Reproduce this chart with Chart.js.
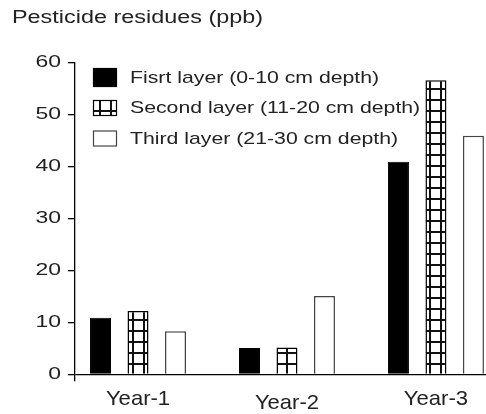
<!DOCTYPE html>
<html>
<head>
<meta charset="utf-8">
<script src="https://cdn.jsdelivr.net/npm/chart.js@4"></script>
<style>
html,body{margin:0;padding:0;background:#fff;}
canvas{display:block;}
</style>
</head>
<body>
<canvas id="c" width="486" height="414"></canvas>
<script>
// ---- data ----
const categories = ['Year-1', 'Year-2', 'Year-3'];
const seriesNames = ['Fisrt layer (0-10 cm depth)', 'Second layer (11-20 cm depth)', 'Third layer (21-30 cm depth)'];
const firstLayer = [10.9, 5.1, 40.9];
const secondLayer = [12.2, 5.2, 56.6];
const thirdLayer = [8.3, 15.1, 45.9];
const yTicks = [0, 10, 20, 30, 40, 50, 60];
const titleText = 'Pesticide residues (ppb)';

const FONT = '"Liberation Sans", Arial, sans-serif';
Chart.defaults.font.family = FONT;
Chart.defaults.color = '#222';

const canvas = document.getElementById('c');
const ctx = canvas.getContext('2d');

// horizontal text stretch (the reference text is drawn wide)
let textStretch = 1;
const origFillText = ctx.fillText.bind(ctx);
ctx.fillText = function (text, x, y, maxWidth) {
  if (textStretch === 1) return origFillText(text, x, y, maxWidth);
  this.save();
  this.translate(x, y);
  this.scale(textStretch, 1);
  origFillText(text, 0, 0);
  this.restore();
};

function gridPattern() {
  const t = document.createElement('canvas');
  t.width = 11; t.height = 11;
  const g = t.getContext('2d');
  g.fillStyle = '#fff'; g.fillRect(0, 0, 11, 11);
  g.fillStyle = '#111';
  g.fillRect(0, 0, 2, 11);
  g.fillRect(0, 0, 11, 2);
  return ctx.createPattern(t, 'repeat');
}

const toPoints = arr => arr.map((v, i) => ({ x: i, y: v }));

const labelStretch = { x: 1.05, y: 1.35 };

const stretchPlugin = {
  id: 'stretch',
  beforeDraw(chart) {
    textStretch = 1.3;
    Object.values(chart.scales).forEach(s => {
      if (!s._stPatched) {
        const orig = s.drawLabels;
        s.drawLabels = function (area) {
          const prev = textStretch;
          textStretch = labelStretch[this.id] || 1;
          orig.call(this, area);
          textStretch = prev;
        };
        s._stPatched = true;
      }
    });
  },
  afterDraw() { textStretch = 1; }
};

const legendPlugin = {
  id: 'insideLegend',
  afterDatasetsDraw(chart) {
    const { ctx, chartArea } = chart;
    const prev = textStretch;
    ctx.save();
    ctx.font = '17px ' + FONT;
    ctx.textBaseline = 'middle';
    ctx.textAlign = 'left';
    chart.data.datasets.forEach((ds, i) => {
      const cy = chartArea.top + 15 + i * 30.5;
      const bx = chartArea.left + 18, bw = 24, bh = i === 0 ? 19 : 16;
      ctx.fillStyle = ds.backgroundColor;
      ctx.fillRect(bx, cy - bh / 2, bw, bh);
      ctx.lineWidth = 1.2;
      ctx.strokeStyle = ds.borderColor;
      ctx.strokeRect(bx + 0.5, cy - bh / 2 + 0.5, bw - 1, bh - 1);
      ctx.fillStyle = '#222';
      textStretch = 1.25;
      ctx.fillText(ds.label, chartArea.left + 55, cy + 0.5);
      textStretch = prev;
    });
    ctx.restore();
  }
};

new Chart(ctx, {
  type: 'bar',
  data: {
    datasets: [
      { label: seriesNames[0], data: toPoints(firstLayer), backgroundColor: '#000', borderColor: '#000', borderWidth: 1 },
      { label: seriesNames[1], data: toPoints(secondLayer), backgroundColor: gridPattern(), borderColor: '#000', borderWidth: 1.5 },
      { label: seriesNames[2], data: toPoints(thirdLayer), backgroundColor: '#fff', borderColor: '#444', borderWidth: 1.5 }
    ]
  },
  options: {
    responsive: false,
    animation: false,
    events: [],
    categoryPercentage: 0.755,
    barPercentage: 0.56,
    layout: { padding: { left: 12, right: 0, top: 0, bottom: 0 } },
    plugins: {
      legend: { display: false },
      tooltip: { enabled: false },
      title: {
        display: true,
        text: titleText,
        align: 'start',
        color: '#222',
        font: { size: 18, weight: 'normal', lineHeight: 1.2 },
        padding: { top: 7.7, bottom: 33.2 }
      }
    },
    scales: {
      x: {
        type: 'linear',
        offset: false,
        min: -0.423,
        max: 2.336,
        afterBuildTicks: s => { s.ticks = categories.map((_, i) => ({ value: i })); },
        afterFit: s => { s.height = 33; },
        grid: { display: false, drawTicks: false, offset: false },
        border: { display: false },
        ticks: {
          padding: 5.9,
          maxRotation: 0,
          autoSkip: false,
          font: c => ({ size: 21, lineHeight: (c.tick && c.tick.value === 1) ? 1.6 : 1.2 }),
          color: '#222',
          callback: v => categories[v]
        }
      },
      y: {
        min: -1.25,
        max: yTicks[yTicks.length - 1],
        afterBuildTicks: s => { s.ticks = yTicks.map(v => ({ value: v })); },
        afterFit: s => { s.width = 63; },
        grid: {
          display: true,
          drawOnChartArea: true,
          drawTicks: true,
          tickLength: 7,
          color: c => (c.tick && c.tick.value === 0) ? '#000' : 'rgba(0,0,0,0)',
          tickColor: '#000',
          lineWidth: 1.3
        },
        border: { display: true, color: '#000', width: 1.3 },
        ticks: { padding: 7, font: { size: 17 }, color: '#222' }
      }
    }
  },
  plugins: [stretchPlugin, legendPlugin]
});
</script>
</body>
</html>
